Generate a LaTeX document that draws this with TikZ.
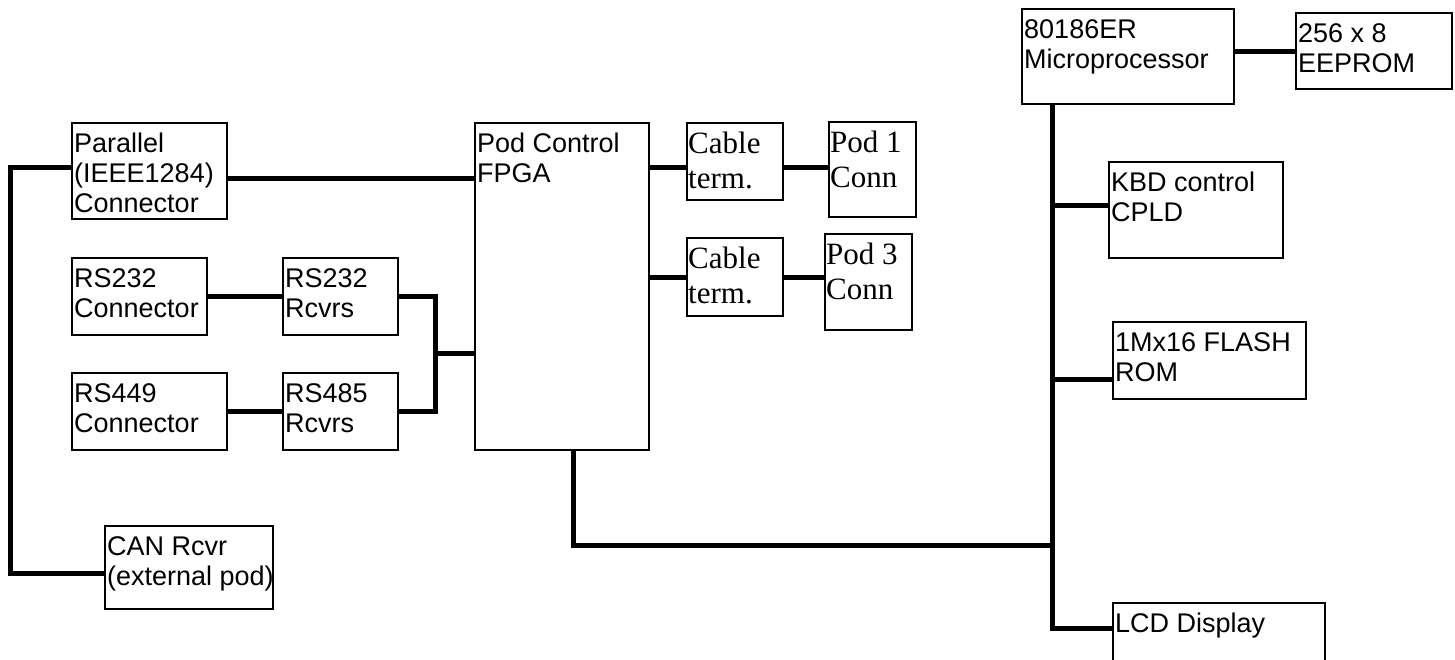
\documentclass[tikz,border=0pt]{standalone}
\usepackage{fontspec}
\setmainfont{Liberation Sans}
\newfontfamily\timesfont{Liberation Serif}

\tikzset{
  blk/.style={draw, line width=2pt, anchor=north west, inner sep=0pt, outer sep=0pt},
  txt/.style={anchor=north west, align=left, inner xsep=2pt, inner ysep=10pt,
    font=\fontsize{27}{30}\selectfont},
  ttxt/.style={txt, inner xsep=1pt, inner ysep=9pt, font=\timesfont\fontsize{31}{35}\selectfont},
  bus/.style={line width=5pt}
}

\begin{document}
\begin{tikzpicture}[x=1pt,y=-1pt]
        \useasboundingbox (0,0) rectangle (1455,659);

        % Left side: connectors and receivers
        \node[blk, minimum width=155, minimum height=96,
          label={[txt]north west:{Parallel\\(IEEE1284)\\Connector}}] (par) at (72,123) {};
        \node[blk, minimum width=135, minimum height=77,
          label={[txt]north west:{RS232\\Connector}}] (rs232c) at (72,258) {};
        \node[blk, minimum width=115, minimum height=77,
          label={[txt]north west:{RS232\\Rcvrs}}] (rs232r) at (283,258) {};
        \node[blk, minimum width=155, minimum height=77,
          label={[txt]north west:{RS449\\Connector}}] (rs449c) at (72,373) {};
        \node[blk, minimum width=115, minimum height=77,
          label={[txt]north west:{RS485\\Rcvrs}}] (rs485r) at (283,373) {};
        \node[blk, minimum width=168, minimum height=83,
          label={[txt]north west:{CAN Rcvr\\(external pod)}}] (can) at (105,526) {};

        % Pod control and pod connectors
        \node[blk, minimum width=174, minimum height=327,
          label={[txt]north west:{Pod Control\\FPGA}}] (fpga) at (475,123) {};
        \node[blk, minimum width=96, minimum height=77,
          label={[ttxt]north west:{Cable\\term.}}] (cab1) at (687,123) {};
        \node[blk, minimum width=87, minimum height=95,
          label={[ttxt]north west:{Pod 1\\Conn}}] (pod1) at (829,122) {};
        \node[blk, minimum width=96, minimum height=78,
          label={[ttxt]north west:{Cable\\term.}}] (cab2) at (687,238) {};
        \node[blk, minimum width=87, minimum height=96,
          label={[ttxt]north west:{Pod 3\\Conn}}] (pod3) at (825,234) {};

        % Processor side
        \node[blk, minimum width=212, minimum height=95,
          label={[txt]north west:{80186ER\\Microprocessor}}] (mpu) at (1022,9) {};
        \node[blk, minimum width=156, minimum height=76,
          label={[txt]north west:{256 x 8\\EEPROM}}] (eep) at (1296,13) {};
        \node[blk, minimum width=174, minimum height=96,
          label={[txt]north west:{KBD control\\CPLD}}] (kbd) at (1109,162) {};
        \node[blk, minimum width=193, minimum height=77,
          label={[txt]north west:{1Mx16 FLASH\\ROM}}] (flash) at (1113,322) {};
        \node[blk, minimum width=212, minimum height=90,
          label={[txt]north west:{LCD Display}}] (lcd) at (1113,603) {};

        % Bend points of the buses
        \coordinate (lb1) at (10,167);
        \coordinate (lb2) at (10,573);
        \coordinate (pf) at (0,178);
        \coordinate (rb) at (435,353);
        \coordinate (c1) at (0,167);
        \coordinate (fb) at (573,545);
        \coordinate (mb) at (1052,628);
        \coordinate (kb) at (1052,205);
        \coordinate (fl) at (1052,379);

        % Draw the connections
        \draw[bus] (par.west |- lb1) -- (lb1) -- (lb2) -- (can.west |- lb2);
        \draw[bus] (par.east |- pf) -- (fpga.west |- pf);
        \draw[bus] (rs232c) -- (rs232r);
        \draw[bus] (rs449c) -- (rs485r);
        \draw[bus] (rs232r.east) -| (rb |- rs485r.east) -- (rs485r.east);
        \draw[bus] (rb) -- (fpga.west |- rb);
        \draw[bus] (fpga.east |- c1) -- (cab1.west |- c1);
        \draw[bus] (cab1.east |- c1) -- (pod1.west |- c1);
        \draw[bus] (fpga.east |- cab2.west) -- (cab2.west);
        \draw[bus] (cab2.east) -- (cab2.east -| pod3.west);
        \draw[bus] (mpu.east |- eep.west) -- (eep.west);
        \draw[bus] (mpu.south -| mb) -- (mb) -- (lcd.west |- mb);
        \draw[bus] (kb) -- (kbd.west |- kb);
        \draw[bus] (fl) -- (flash.west |- fl);
        \draw[bus] (fpga.south -| fb) -- (fb) -- (mb |- fb);
    \end{tikzpicture}
\end{document}
